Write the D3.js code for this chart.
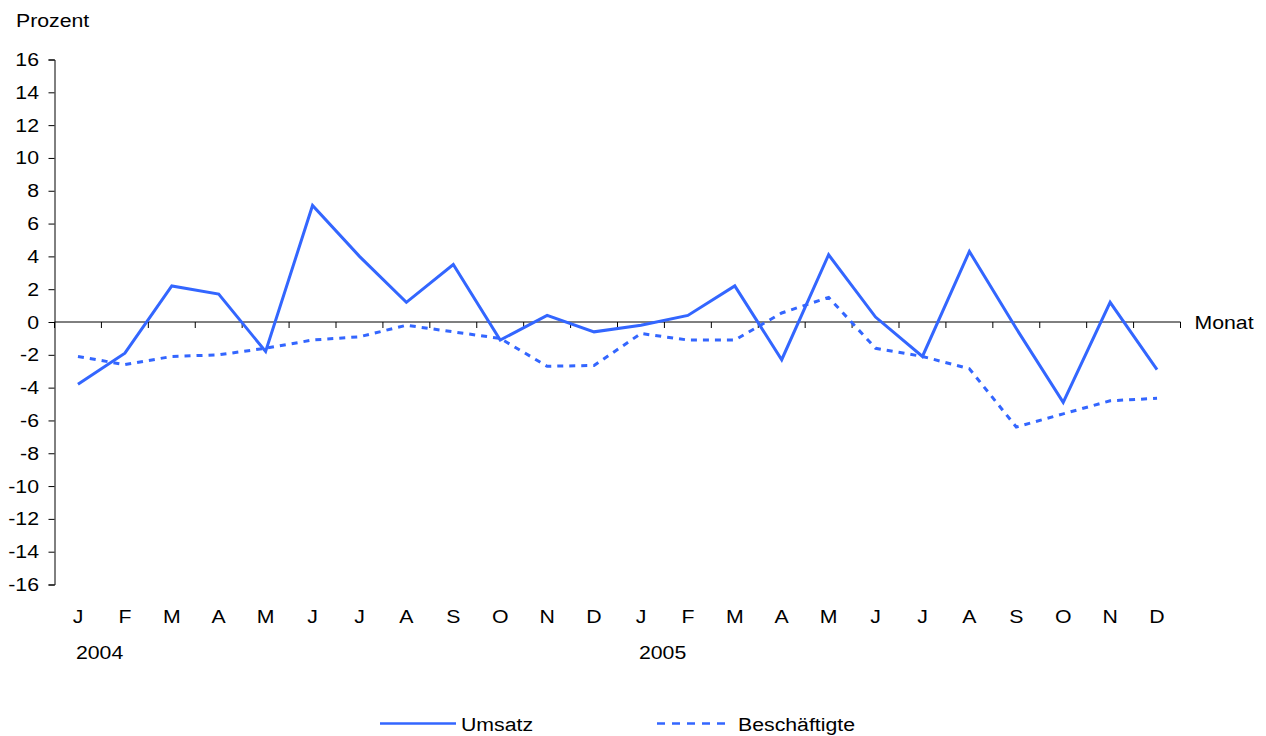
<!DOCTYPE html>
<html><head><meta charset="utf-8">
<script src="https://cdn.jsdelivr.net/npm/d3@7"></script>
<style>body{margin:0;background:#fff}svg{display:block;font-family:"Liberation Sans",Arial,sans-serif}</style>
</head><body>
<svg id="c" width="1266" height="736"></svg>
<script>
const months = ["J","F","M","A","M","J","J","A","S","O","N","D","J","F","M","A","M","J","J","A","S","O","N","D"];
const years = ["2004","2005"];
const umsatz = [-3.8,-1.9,2.2,1.7,-1.8,7.1,4.0,1.2,3.5,-1.1,0.4,-0.6,-0.2,0.4,2.2,-2.3,4.1,0.3,-2.1,4.3,-0.4,-4.9,1.2,-2.9];
const beschaeftigte = [-2.1,-2.6,-2.1,-2.0,-1.6,-1.1,-0.9,-0.2,-0.6,-1.0,-2.7,-2.65,-0.7,-1.1,-1.1,0.55,1.5,-1.6,-2.1,-2.85,-6.4,-5.6,-4.8,-4.65];
const yTicks = d3.range(-16,17,2);

const svg = d3.select("#c");
const color = "#3366ff";
const FS = 19, SX = 1.12;
const x0 = 54.5, x1 = 1180.5;
const idx = d3.range(months.length);
const x = d3.scaleBand().domain(idx).range([x0,x1]);
const y = d3.scaleLinear().domain([-16,16]).range([584.5,59.5]);
const cx = i => x(i) + x.bandwidth()/2;

function txt(px, py, s, anchor) {
  svg.append("text").attr("transform",`translate(${px},${py}) scale(${SX},1)`)
    .attr("text-anchor",anchor||"start").attr("font-size",FS).attr("fill","#000").text(s);
}

// y axis
const ya = svg.append("g").attr("transform",`translate(${x0},0)`)
  .call(d3.axisLeft(y).tickValues(yTicks).tickSize(6).tickFormat(""));
ya.selectAll("line,path").attr("stroke","#000");
yTicks.forEach(v => txt(39, y(v)+6.5, d3.format("")(v).replace("−","-"), "end"));

// x axis at zero
const xa = svg.append("g").attr("transform",`translate(0,${y(0)})`);
xa.append("line").attr("x1",x0).attr("x2",x1).attr("stroke","#000");
xa.selectAll("line.t").data(d3.range(months.length+1)).enter().append("line")
  .attr("x1",i=>x0+i*x.step()).attr("x2",i=>x0+i*x.step()).attr("y1",0).attr("y2",6).attr("stroke","#000");

txt(x1+14, y(0)+6.5, "Monat");
txt(16, 27, "Prozent");

idx.forEach(i => txt(cx(i), 623, months[i], "middle"));
years.forEach((d,k) => txt(cx(k*12)-2, 659, d));

const line = d3.line().x((d,i)=>cx(i)).y(d=>y(d));
svg.append("path").datum(beschaeftigte).attr("d",line).attr("fill","none").attr("stroke",color)
  .attr("stroke-width",3).attr("stroke-dasharray","6,6");
svg.append("path").datum(umsatz).attr("d",line).attr("fill","none").attr("stroke",color)
  .attr("stroke-width",3).attr("stroke-linejoin","miter");

// legend
svg.append("line").attr("x1",380).attr("x2",456).attr("y1",723.5).attr("y2",723.5).attr("stroke",color).attr("stroke-width",2.5);
txt(461, 731, "Umsatz");
svg.append("line").attr("x1",657).attr("x2",726).attr("y1",723.5).attr("y2",723.5).attr("stroke",color).attr("stroke-width",2.5).attr("stroke-dasharray","8,7");
txt(738, 731, "Beschäftigte");
</script>
</body></html>
